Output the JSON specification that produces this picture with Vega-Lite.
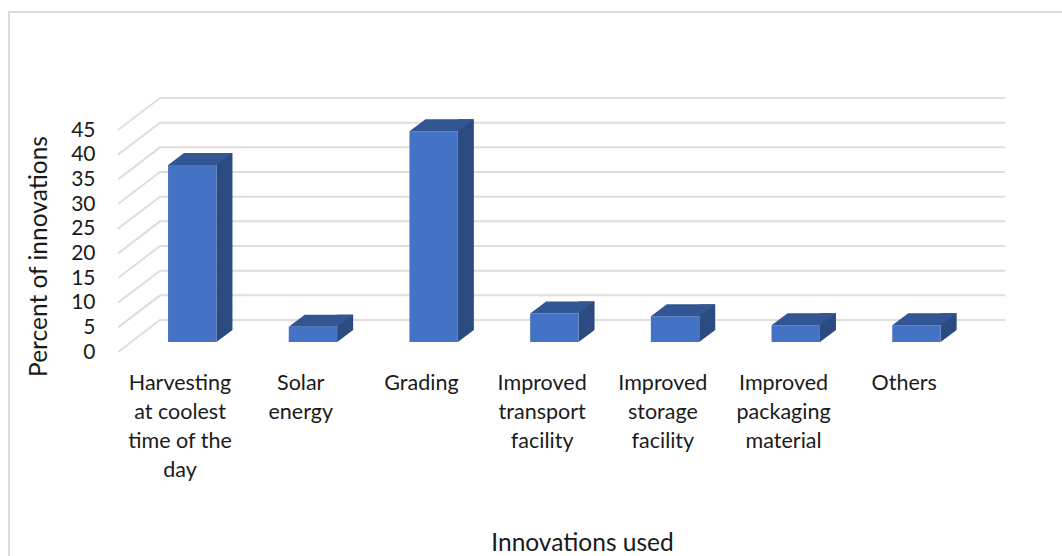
{
"$schema":"https://vega.github.io/schema/vega-lite/v6.json",
"width":1055,"height":546,
"autosize":"none",
"padding":{"left":9,"top":12,"right":-2,"bottom":-2},
"background":"#ffffff",
"view":{"stroke":"#dcdcdc","strokeWidth":2,"fill":null},
"config":{"font":"Lato"},
"datasets":{
"bars":[
{"innovation":"Harvesting at coolest time of the day","percent":35.9},
{"innovation":"Solar energy","percent":3.1},
{"innovation":"Grading","percent":42.7},
{"innovation":"Improved transport facility","percent":5.8},
{"innovation":"Improved storage facility","percent":5.2},
{"innovation":"Improved packaging material","percent":3.4},
{"innovation":"Others","percent":3.4}
],
"levels":[{"level":0},{"level":5},{"level":10},{"level":15},{"level":20},{"level":25},{"level":30},{"level":35},{"level":40},{"level":45}]
},
"encoding":{
"x":{"field":"innovation","type":"nominal","sort":null,
"scale":{"domain":["Harvesting at coolest time of the day","Solar energy","Grading","Improved transport facility","Improved storage facility","Improved packaging material","Others"],"range":[110.7,955.6],"paddingInner":0,"paddingOuter":0}},
"y":{"field":"percent","type":"quantitative","scale":{"domain":[0,45],"range":[340,118],"nice":false,"zero":true}}
},
"layer":[
{"data":{"name":"levels"},
 "mark":{"type":"point","shape":"M-62,0 L-20,-32 L825,-32","size":4,"filled":false,"stroke":"#dedede","strokeWidth":2,"opacity":1},
 "encoding":{"x":{"datum":"Harvesting at coolest time of the day"},"y":{"field":"level","type":"quantitative"}}},
{"data":{"name":"bars"},
 "mark":{"type":"bar","width":16,"xOffset":44.4,"yOffset":-22,"y2Offset":-22,"color":"#2a4a80"},
 "encoding":{
 "x":{"field":"innovation","type":"nominal","sort":null,
  "axis":{"orient":"bottom","title":"Innovations used","offset":-186,"domain":false,"ticks":false,"grid":false,"labelPadding":0,"labelAngle":0,"labelFontSize":21.5,"labelColor":"#1a1a1a","labelLineHeight":29,"labelBaseline":"top","labelAlign":"center","labelOverlap":false,"labelLimit":0,"labelFont":"Lato",
  "labelExpr":"datum.label=='Harvesting at coolest time of the day'?['Harvesting','at coolest','time of the','day']:datum.label=='Solar energy'?['Solar','energy']:datum.label=='Improved transport facility'?['Improved','transport','facility']:datum.label=='Improved storage facility'?['Improved','storage','facility']:datum.label=='Improved packaging material'?['Improved','packaging','material']:datum.label",
  "titleFontSize":24.5,"titleFontWeight":"normal","titleColor":"#1a1a1a","titleFont":"Lato","titleX":573,"titleY":171,"titleBaseline":"middle","titleAnchor":"middle","titleAlign":"center"}},
 "y":{"field":"percent","type":"quantitative",
  "axis":{"orient":"left","title":"Percent of innovations","offset":-86,"domain":false,"ticks":false,"grid":false,"labelPadding":0,"values":[0,5,10,15,20,25,30,35,40,45],"labelFontSize":21,"labelColor":"#1a1a1a","labelFont":"Lato","labelOverlap":false,"labelBound":false,
  "titleFontSize":24.5,"titleFontWeight":"normal","titleColor":"#1a1a1a","titleFont":"Lato","titleX":-56,"titleY":244,"titleBaseline":"middle","titleAnchor":"middle","titleAlign":"center","titleAngle":-90}}
 }},
{"data":{"name":"bars"},
 "mark":{"type":"point","shape":"M36.4,-10 L52.4,-22 L36.4,-22 Z","size":4,"filled":true,"fill":"#2a4a80","stroke":null,"opacity":1},
 "encoding":{"y":{"datum":0}}},
{"data":{"name":"bars"},
 "mark":{"type":"bar","width":48.4,"xOffset":12.2,"yOffset":-10,"y2Offset":-10,"color":"#4472c4"}},
{"data":{"name":"bars"},
 "mark":{"type":"point","shape":"M-12,-10 L36.4,-10 L52.4,-22 L4,-22 Z","size":4,"filled":true,"fill":"#325694","stroke":null,"opacity":1}}
]
}
